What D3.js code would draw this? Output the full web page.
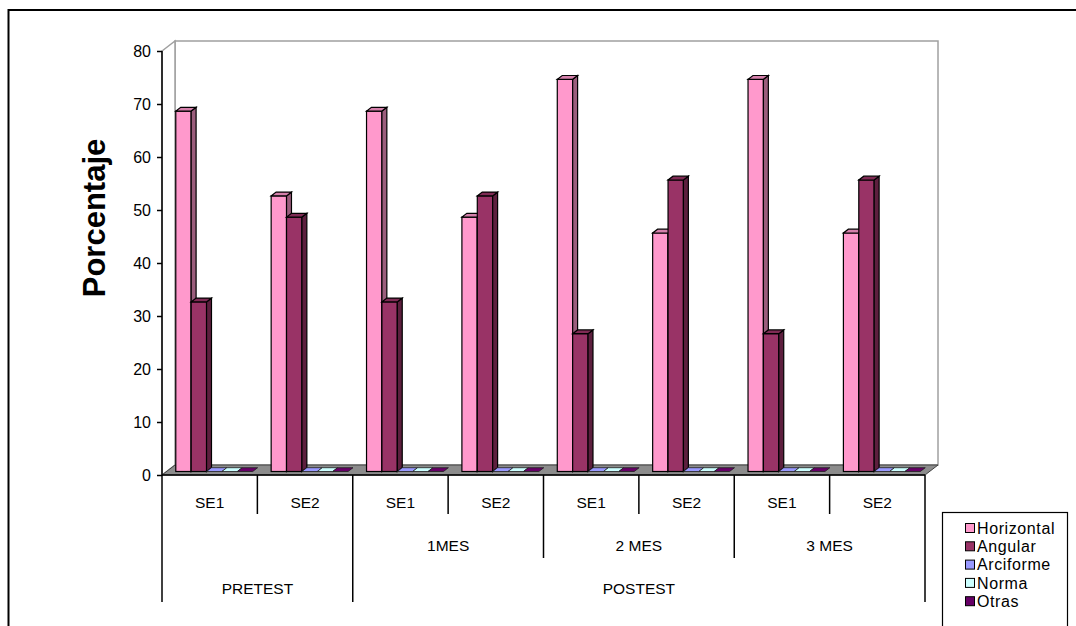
<!DOCTYPE html>
<html>
<head>
<meta charset="utf-8">
<script src="https://cdn.jsdelivr.net/npm/d3@7"></script>
<style>
  html, body { margin: 0; padding: 0; background: #fff; }
  svg { display: block; font-family: "Liberation Sans", Arial, sans-serif; }
</style>
</head>
<body>
<svg id="chart" width="1076" height="626"></svg>
<script>
// ---- data ----
const sessions = ["SE1", "SE2", "SE1", "SE2", "SE1", "SE2", "SE1", "SE2"];
const months = ["", "1MES", "2 MES", "3 MES"];
const phases = ["PRETEST", "POSTEST"];
const seriesNames = ["Horizontal", "Angular", "Arciforme", "Norma", "Otras"];
const seriesColors = ["#FF99CC", "#993366", "#9999FF", "#CCFFFF", "#660066"];
const horizontal = [68, 52, 68, 48, 74, 45, 74, 45];
const angular    = [32, 48, 32, 52, 26, 55, 26, 55];
const arciforme  = [0, 0, 0, 0, 0, 0, 0, 0];
const norma      = [0, 0, 0, 0, 0, 0, 0, 0];
const otras      = [0, 0, 0, 0, 0, 0, 0, 0];
const yTicks = [0, 10, 20, 30, 40, 50, 60, 70, 80];
const yTitle = "Porcentaje";

const seriesValues = [horizontal, angular, arciforme, norma, otras];
const catKeys = sessions.map((s, i) => i);
// how many categories each month / phase spans
const monthSpan = [2, 2, 2, 2];
const phaseSpan = [2, 6];

// ---- layout ----
const svg = d3.select("#chart");
const plotL = 162, plotR = 925, plotT = 51, plotB = 475;
const DX = 13, DY = -10;          // floor depth projection
const f0 = 0.35, f1 = 0.73;       // bar depth band within the floor

const y = d3.scaleLinear().domain([0, 80]).range([plotB, plotT]);
const x0 = d3.scaleBand().domain(catKeys).range([plotL, plotR]).padding(0);
const xs = d3.scaleBand().domain(seriesNames).range([0, x0.bandwidth()])
  .paddingInner(0).paddingOuter(0.6);
const color = d3.scaleOrdinal().domain(seriesNames).range(seriesColors);

// outer chart frame
svg.append("rect").attr("x", 8.5).attr("y", 10).attr("width", 1200).attr("height", 800)
  .attr("fill", "#fff").attr("stroke", "#000").attr("stroke-width", 2);

// back wall
const wallTop = y(80) + DY;
svg.append("rect")
  .attr("x", plotL + DX).attr("y", wallTop)
  .attr("width", plotR - plotL).attr("height", plotB + DY - wallTop)
  .attr("fill", "#fff").attr("stroke", "#a0a0a0").attr("stroke-width", 1.5);
// side wall
svg.append("path")
  .attr("d", `M${plotL},${plotT}L${plotL + DX},${wallTop}L${plotL + DX},${plotB + DY}L${plotL},${plotB}Z`)
  .attr("fill", "#fff").attr("stroke", "#a0a0a0").attr("stroke-width", 1.5);
// floor
svg.append("path")
  .attr("d", `M${plotL},${plotB}L${plotR},${plotB}L${plotR + DX},${plotB + DY}L${plotL + DX},${plotB + DY}Z`)
  .attr("fill", "#8c8c8c").attr("stroke", "#404040").attr("stroke-width", 1);

// ---- bars ----
const bdx = DX * (f1 - f0), bdy = DY * (f1 - f0);
const bars = [];
catKeys.forEach(k => {
  seriesNames.forEach((name, si) => {
    bars.push({ k, name, v: seriesValues[si][k] });
  });
});
const barG = svg.append("g");
bars.forEach(d => {
  const c = color(d.name);
  const x = x0(d.k) + xs(d.name) + DX * f0;
  const w = xs.bandwidth();
  const base = y(0) + DY * f0;
  const top = y(d.v) + DY * f0;
  const g = barG.append("g");
  if (d.v > 0) {
    g.append("rect").attr("x", x).attr("y", top).attr("width", w).attr("height", base - top)
      .attr("fill", c).attr("stroke", "#000").attr("stroke-width", 1.2);
    g.append("path")
      .attr("d", `M${x + w},${base}L${x + w + bdx},${base + bdy}L${x + w + bdx},${top + bdy}L${x + w},${top}Z`)
      .attr("fill", d3.color(c).darker(1.4)).attr("stroke", "#000").attr("stroke-width", 1.2);
  }
  g.append("path")
    .attr("d", `M${x},${top}L${x + w},${top}L${x + w + bdx},${top + bdy}L${x + bdx},${top + bdy}Z`)
    .attr("fill", d.v > 0 ? d3.color(c).darker(0.5) : c)
    .attr("stroke", d.v > 0 ? "#000" : "#202020").attr("stroke-width", d.v > 0 ? 1.2 : 0.8);
});

// ---- value axis ----
const yAxis = svg.append("g").attr("transform", `translate(${plotL},0)`)
  .call(d3.axisLeft(y).tickValues(yTicks).tickSize(5).tickPadding(6));
yAxis.select(".domain").attr("stroke", "#000").attr("stroke-width", 1.5)
  .attr("d", `M0,${plotT}V${plotB}`);
yAxis.selectAll(".tick line").attr("stroke", "#000").attr("stroke-width", 1.5);
yAxis.selectAll(".tick text").attr("font-size", 16).attr("fill", "#000")
  .attr("font-family", "Liberation Sans, Arial, sans-serif");

svg.append("text")
  .attr("transform", `translate(105,218) rotate(-90)`)
  .attr("text-anchor", "middle")
  .attr("font-size", 31).attr("font-weight", "bold")
  .text(yTitle);

// ---- category axis (three-level table) ----
const rowY = [plotB, 514, 558, 602];
const axisG = svg.append("g").attr("stroke", "#000").attr("stroke-width", 1.5);
axisG.append("line").attr("x1", plotL).attr("x2", plotR).attr("y1", plotB).attr("y2", plotB);

function edge(i) { return i < catKeys.length ? x0(catKeys[i]) : plotR; }

// boundaries: depth to which each divider reaches
const phaseEdges = [0];
phaseSpan.reduce((a, s) => { phaseEdges.push(a + s); return a + s; }, 0);
const monthEdges = [0];
monthSpan.reduce((a, s) => { monthEdges.push(a + s); return a + s; }, 0);
for (let i = 0; i <= catKeys.length; i++) {
  let bottom = rowY[1];
  if (monthEdges.includes(i)) bottom = rowY[2];
  if (phaseEdges.includes(i)) bottom = rowY[3];
  axisG.append("line").attr("x1", edge(i)).attr("x2", edge(i))
    .attr("y1", plotB).attr("y2", bottom);
}

const labelG = svg.append("g").attr("font-size", 15.5).attr("text-anchor", "middle").attr("fill", "#000");
sessions.forEach((s, i) => {
  labelG.append("text").attr("x", x0(catKeys[i]) + x0.bandwidth() / 2).attr("y", 503)
    .attr("dy", "0.35em").text(s);
});
months.forEach((m, i) => {
  if (!m) return;
  const a = edge(monthEdges[i]), b = edge(monthEdges[i + 1]);
  labelG.append("text").attr("x", (a + b) / 2).attr("y", 546).attr("dy", "0.35em").text(m);
});
phases.forEach((p, i) => {
  const a = edge(phaseEdges[i]), b = edge(phaseEdges[i + 1]);
  labelG.append("text").attr("x", (a + b) / 2).attr("y", 589).attr("dy", "0.35em").text(p);
});

// ---- legend ----
const legend = svg.append("g");
legend.append("rect").attr("x", 942.5).attr("y", 512.5).attr("width", 125).attr("height", 130)
  .attr("fill", "#fff").attr("stroke", "#000").attr("stroke-width", 1.2);
seriesNames.forEach((name, i) => {
  const cy = 528 + i * 18.3;
  legend.append("rect").attr("x", 965.5).attr("y", cy - 4.5).attr("width", 9).attr("height", 9)
    .attr("fill", color(name)).attr("stroke", "#000").attr("stroke-width", 1);
  legend.append("text").attr("x", 977).attr("y", cy).attr("dy", "0.35em")
    .attr("font-size", 16).attr("letter-spacing", 0.6).text(name);
});
</script>
</body>
</html>
